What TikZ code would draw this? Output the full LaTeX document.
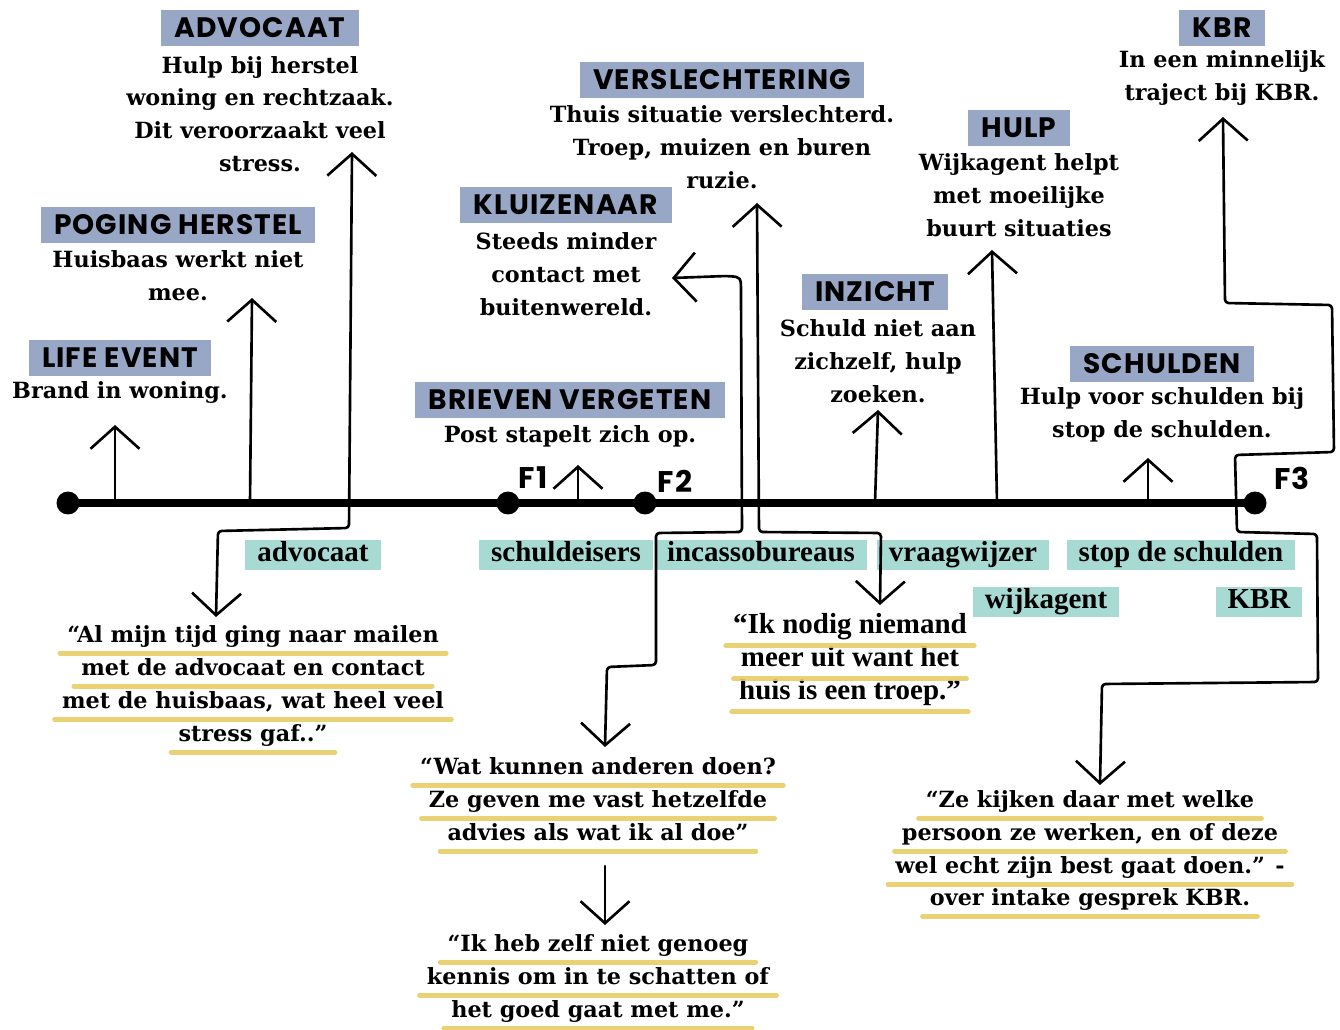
\documentclass[tikz,border=0pt]{standalone}
\usepackage{fontspec}
\setmainfont{DejaVu Serif}
\newfontfamily\headfont[LetterSpace=4]{Poppins}
\newfontfamily\tagfont{Liberation Serif}
\usetikzlibrary{arrows.meta}
\definecolor{headbg}{RGB}{152,167,197}
\definecolor{tagbg}{RGB}{168,218,212}
\definecolor{hilite}{RGB}{232,205,100}

\begin{document}
\begin{tikzpicture}[x=0.02cm, y=-0.02cm,
  head/.style={fill=headbg, font=\headfont\bfseries\fontsize{16}{16}\selectfont,
    inner xsep=0.27cm, inner ysep=0, minimum height=0.72cm, text height=11.2pt, text depth=0pt},
  body/.style={align=center, inner sep=0, font=\bfseries\fontsize{12.7}{18.7}\selectfont},
  tag/.style={fill=tagbg, font=\tagfont\bfseries\fontsize{16.5}{16.5}\selectfont,
    inner xsep=0.24cm, inner ysep=0, minimum height=0.62cm, text height=11pt, text depth=3.5pt},
  quote/.style={inner sep=0, font=\bfseries\fontsize{12.7}{12.7}\selectfont, text height=9pt, text depth=3pt},
  quotealt/.style={inner sep=0, font=\tagfont\bfseries\fontsize{16.5}{16.5}\selectfont, text height=10pt, text depth=4pt},
  uline/.style={hilite, line width=2.8pt, line cap=round, opacity=0.9},
  dot/.style={circle, fill=black, inner sep=0, minimum size=0.46cm},
  fmark/.style={font=\headfont\bfseries\fontsize{17}{17}\selectfont, inner sep=0},
  conn/.style={line width=1.5pt, line cap=round, line join=round, rounded corners=2pt},
  >={Straight Barb[length=0.44cm, width=0.98cm]},
]
\fill[white] (0,0) rectangle (1340,1030);
\useasboundingbox (0,0) rectangle (1340,1030);

% --- phase headings and descriptions
\node[head] (advH) at (260,28) {ADVOCAAT};
\node[body] (advB) at (260,114) {Hulp bij herstel\\woning en rechtzaak.\\Dit veroorzaakt veel\\stress.};
\node[head] (pogH) at (178,225) {POGING HERSTEL};
\node[body] (pogB) at (178,276) {Huisbaas werkt niet\\mee.};
\node[head] (lifeH) at (120,358) {LIFE EVENT};
\node[body] (lifeB) at (120,393) {Brand in woning.};
\node[head] (verH) at (722,80) {VERSLECHTERING};
\node[body] (verB) at (722,147) {Thuis situatie verslechterd.\\Troep, muizen en buren\\ruzie.};
\node[head] (kluH) at (566,205) {KLUIZENAAR};
\node[body] (kluB) at (566,274) {Steeds minder\\contact met\\buitenwereld.};
\node[head] (briH) at (570,400) {BRIEVEN VERGETEN};
\node[body] (briB) at (570,436) {Post stapelt zich op.};
\node[head] (inzH) at (875,292) {INZICHT};
\node[body] (inzB) at (878,361) {Schuld niet aan\\zichzelf, hulp\\zoeken.};
\node[head] (hulH) at (1019,128) {HULP};
\node[body] (hulB) at (1019,195) {Wijkagent helpt\\met moeilijke\\buurt situaties};
\node[head] (schH) at (1162,364) {SCHULDEN};
\node[body] (schB) at (1162,415) {Hulp voor schulden bij\\stop de schulden.};
\node[head] (kbrH) at (1222,28) {KBR};
\node[body] (kbrB) at (1222,78) {In een minnelijk\\traject bij KBR.};

% --- timeline
\node[dot] (d0) at (68,503) {};
\node[dot] (d1) at (508,503) {};
\node[dot] (d2) at (645,503) {};
\node[dot] (d3) at (1255,503) {};
\draw[line width=4pt] (d0.center) -- (d3.center);
\node[fmark] (f1) at (533,478) {F1};
\node[fmark] (f2) at (675,481) {F2};
\node[fmark] (f3) at (1292,478) {F3};

% --- actors
\node[tag] (tAdv) at (313,555) {advocaat};
\node[tag] (tSch) at (566,555) {schuldeisers};
\node[tag] (tInc) at (761,555) {incassobureaus};
\node[tag] (tVra) at (963,555) {vraagwijzer};
\node[tag] (tStop) at (1181,555) {stop de schulden};
\node[tag] (tWijk) at (1046,602) {wijkagent};
\node[tag] (tKbr) at (1259,602) {KBR};

% --- quotes
\node[quote] (qa1) at (253,637) {“Al mijn tijd ging naar mailen};
\node[quote] (qa2) at (253,670) {met de advocaat en contact};
\node[quote] (qa3) at (253,703) {met de huisbaas, wat heel veel};
\node[quote] (qa4) at (253,736) {stress gaf..”};
\node[quote] (qb1) at (598,769) {“Wat kunnen anderen doen?};
\node[quote] (qb2) at (598,802) {Ze geven me vast hetzelfde};
\node[quote] (qb3) at (598,835) {advies als wat ik al doe”};
\node[quote] (qc1) at (598,946) {“Ik heb zelf niet genoeg};
\node[quote] (qc2) at (598,979) {kennis om in te schatten of};
\node[quote] (qc3) at (598,1012) {het goed gaat met me.”};
\node[quotealt] (qd1) at (850,628) {“Ik nodig niemand};
\node[quotealt] (qd2) at (850,661) {meer uit want het};
\node[quotealt] (qd3) at (850,694) {huis is een troep.”};
\node[quote] (qe1) at (1090,802) {“Ze kijken daar met welke};
\node[quote] (qe2) at (1090,835) {persoon ze werken, en of deze};
\node[quote] (qe3) at (1090,868) {wel echt zijn best gaat doen.” -};
\node[quote] (qe4) at (1090,900) {over intake gesprek KBR.};
\foreach \n in {qa1,qa2,qa3,qa4,qb1,qb2,qb3,qc1,qc2,qc3,qd1,qd2,qd3,qe1,qe2,qe3,qe4}
  \draw[uline] ([xshift=-4pt,yshift=-3pt]\n.south west) -- ([xshift=4pt,yshift=-3pt]\n.south east);

% --- connector anchors
\coordinate (lifeRoot) at (115,503);  \coordinate (lifeTip) at (115,425);
\coordinate (pogRoot) at (250,503);   \coordinate (pogTip) at (252,298);
\coordinate (advTip) at (352,152);    \coordinate (advQTip) at (216,617);
\coordinate (f1Root) at (578,503);    \coordinate (f1Tip) at (578,465);
\coordinate (kluTip) at (672,278);    \coordinate (kluQTip) at (605,747);
\coordinate (verTip) at (757,203);    \coordinate (verQTip) at (880,605);
\coordinate (inzRoot) at (875,503);   \coordinate (inzTip) at (878,410);
\coordinate (hulRoot) at (997,503);   \coordinate (hulTip) at (992,250);
\coordinate (schRoot) at (1148,503);  \coordinate (schTip) at (1148,458);
\coordinate (kbrTip) at (1223,117);   \coordinate (kbrQTip) at (1100,785);
\coordinate (qbRoot) at (605,866);    \coordinate (qcTip) at (605,925);

% --- connectors
\draw[conn,->] (lifeRoot) -- (lifeTip);
\draw[conn,->] (pogRoot) -- (pogTip);
\draw[conn,<->] (advTip) -- (349,528) -- (218,531) -- (advQTip);
\draw[conn,->] (f1Root) -- (f1Tip);
\draw[conn,<->] (kluTip) -- (726,276) .. controls (741,277) .. (741,296) -- (742,532) -- (656,533) -- (656,665) -- (607,667) -- (kluQTip);
\draw[conn,<->] (verTip) -- (759,532) -- (881,533) -- (verQTip);
\draw[conn,->] (inzRoot) -- (inzTip);
\draw[conn,->] (hulRoot) -- (hulTip);
\draw[conn,->] (schRoot) -- (schTip);
\draw[conn,<->] (kbrTip) -- (1225,303) -- (1332,305) -- (1334,452) -- (1235,455) -- (1237,532) -- (1317,534) -- (1318,682) -- (1102,684) -- (kbrQTip);
\draw[conn,->] (qbRoot) -- (qcTip);
\end{tikzpicture}
\end{document}
